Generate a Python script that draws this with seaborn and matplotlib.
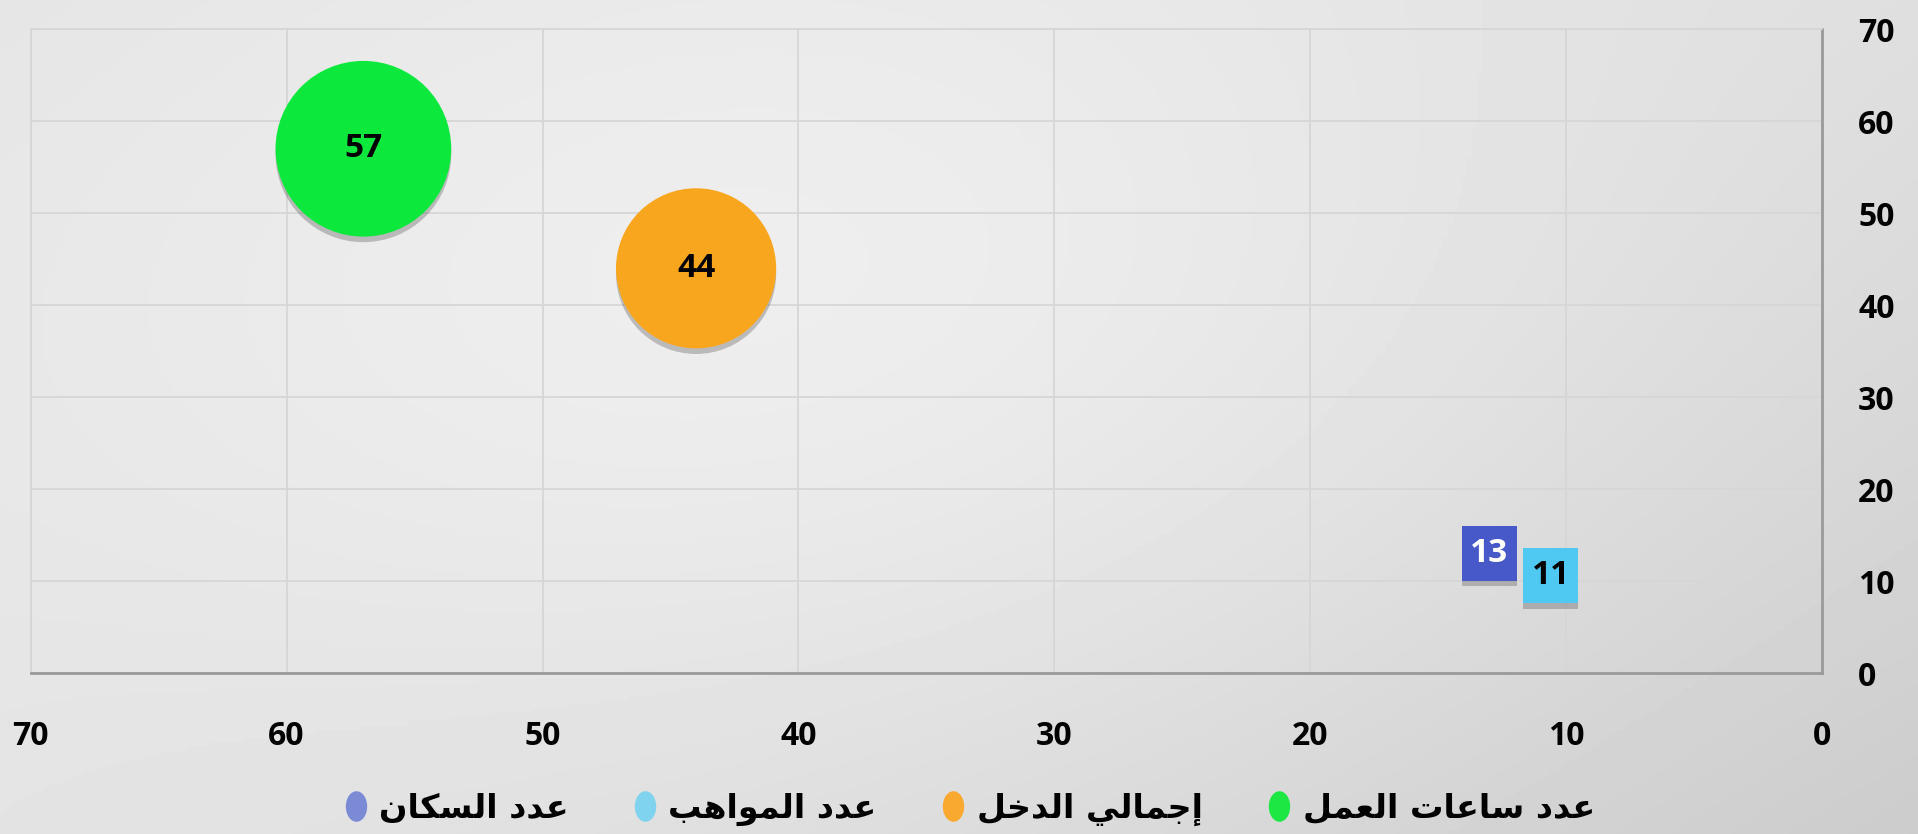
import numpy as np
import pandas as pd
import seaborn as sns
import matplotlib.pyplot as plt
import matplotlib.patheffects as pe
from matplotlib.lines import Line2D
from matplotlib.path import Path

# data
series = ["عدد ساعات العمل", "إجمالي الدخل", "عدد المواهب", "عدد السكان"]
x_vals = [57, 44, 10.6, 13]
y_vals = [57, 44, 10.6, 13]
bubble = [57, 44, 11, 13]
ticks = [0, 10, 20, 30, 40, 50, 60, 70]

colors = ["#0de83c", "#f9a61f", "#4fc9f1", "#4759c9"]
legend_colors = ["#1de843", "#f9a830", "#7fd3ef", "#7b8ad5"]
label_colors = ["black", "black", "black", "white"]
marker_map = {series[0]: "o", series[1]: "o", series[2]: "s", series[3]: "s"}
size_map = {series[0]: 16000, series[1]: 13300, series[2]: 1560, series[3]: 1560}

# minimal arabic shaping (matplotlib has no bidi/shaping)
FORMS = {
    "ا": (0xFE8D, 0xFE8E, None, None), "إ": (0xFE87, 0xFE88, None, None),
    "د": (0xFEA9, 0xFEAA, None, None), "و": (0xFEED, 0xFEEE, None, None),
    "ب": (0xFE8F, 0xFE90, 0xFE91, 0xFE92), "ت": (0xFE95, 0xFE96, 0xFE97, 0xFE98),
    "ج": (0xFE9D, 0xFE9E, 0xFE9F, 0xFEA0), "خ": (0xFEA5, 0xFEA6, 0xFEA7, 0xFEA8),
    "س": (0xFEB1, 0xFEB2, 0xFEB3, 0xFEB4), "ع": (0xFEC9, 0xFECA, 0xFECB, 0xFECC),
    "ك": (0xFED9, 0xFEDA, 0xFEDB, 0xFEDC), "ل": (0xFEDD, 0xFEDE, 0xFEDF, 0xFEE0),
    "م": (0xFEE1, 0xFEE2, 0xFEE3, 0xFEE4), "ن": (0xFEE5, 0xFEE6, 0xFEE7, 0xFEE8),
    "ه": (0xFEE9, 0xFEEA, 0xFEEB, 0xFEEC), "ي": (0xFEF1, 0xFEF2, 0xFEF3, 0xFEF4),
}

def shape(text):
    out = []
    for i, ch in enumerate(text):
        f = FORMS.get(ch)
        if f is None:
            out.append(ch)
            continue
        prev = FORMS.get(text[i - 1]) if i > 0 else None
        nxt = FORMS.get(text[i + 1]) if i < len(text) - 1 else None
        jp = prev is not None and prev[2] is not None
        jn = f[2] is not None and nxt is not None
        if jp and jn:
            c = f[3]
        elif jp:
            c = f[1]
        elif jn:
            c = f[2]
        else:
            c = f[0]
        out.append(chr(c))
    return "".join(reversed(out))

df = pd.DataFrame({"series": series, "x": x_vals, "y": y_vals, "size": bubble})

sns.set_theme(style="white")
plt.rcParams["font.family"] = ["Open Sans", "DejaVu Sans"]

fig = plt.figure(figsize=(19.18, 8.34), dpi=100)

# background gradient
bg = fig.add_axes([0, 0, 1, 1], zorder=-10)
X, Y = np.meshgrid(np.linspace(0, 1, 400), np.linspace(0, 1, 200))
grad = (0.885 + 0.065 * np.exp(-((X - 0.45) / 0.45) ** 2 - ((Y - 0.4) / 0.6) ** 2)
        - 0.07 * X * Y - 0.02 * X)
bg.imshow(grad, cmap="gray", vmin=0, vmax=1, aspect="auto", extent=[0, 1, 1, 0])
bg.axis("off")

ax = fig.add_axes([0.016, 0.193, 0.934, 0.772])
ax.patch.set_alpha(0)

sns.scatterplot(data=df, x="x", y="y", hue="series", palette=dict(zip(series, colors)),
                size="series", sizes=size_map, style="series", markers=marker_map,
                linewidth=0, legend=False, ax=ax, zorder=3)
ax.collections[-1].set_path_effects([pe.SimplePatchShadow(offset=(0, -4), alpha=0.3, shadow_rgbFace="#444444"), pe.Normal()])

for xv, yv, b, c in zip(x_vals, y_vals, bubble, label_colors):
    ax.text(xv, yv, f"{b:.0f}", ha="center", va="center", fontsize=24, fontweight="bold",
            color=c, zorder=5)

ax.set_xlim(70, 0)
ax.set_ylim(0, 70)
ax.set_xticks(ticks)
ax.set_yticks(ticks)
ax.yaxis.tick_right()
ax.tick_params(axis="both", length=0, labelsize=23, pad=26)
ax.tick_params(axis="x", pad=34)
for lab in ax.get_xticklabels() + ax.get_yticklabels():
    lab.set_fontweight("bold")
    lab.set_color("black")
ax.set_xlabel("")
ax.set_ylabel("")
ax.grid(True, color="#d6d6d6", linewidth=1.3)
ax.set_axisbelow(True)
for side in ["top", "left"]:
    ax.spines[side].set_color("#d6d6d6")
    ax.spines[side].set_linewidth(1.3)
for side in ["bottom", "right"]:
    ax.spines[side].set_color("#9a9a9a")
    ax.spines[side].set_linewidth(2)

# legend, left to right as in the reference
ellipse = Path(Path.unit_circle().vertices * [0.7, 1.0], Path.unit_circle().codes)
order = [3, 2, 1, 0]
handles = [Line2D([], [], linestyle="none", marker=ellipse, markersize=22,
                  markerfacecolor=legend_colors[i], markeredgewidth=0) for i in order]
labels = [shape(series[i]) for i in order]
fig.legend(handles, labels, loc="center", bbox_to_anchor=(0.505, 0.03), ncol=4, frameon=False,
           handletextpad=0.3, columnspacing=1.9, handlelength=0.8, labelcolor="black",
           prop={"family": ["DejaVu Sans"], "weight": "bold", "size": 24})

fig.savefig("out.png", dpi=100)
